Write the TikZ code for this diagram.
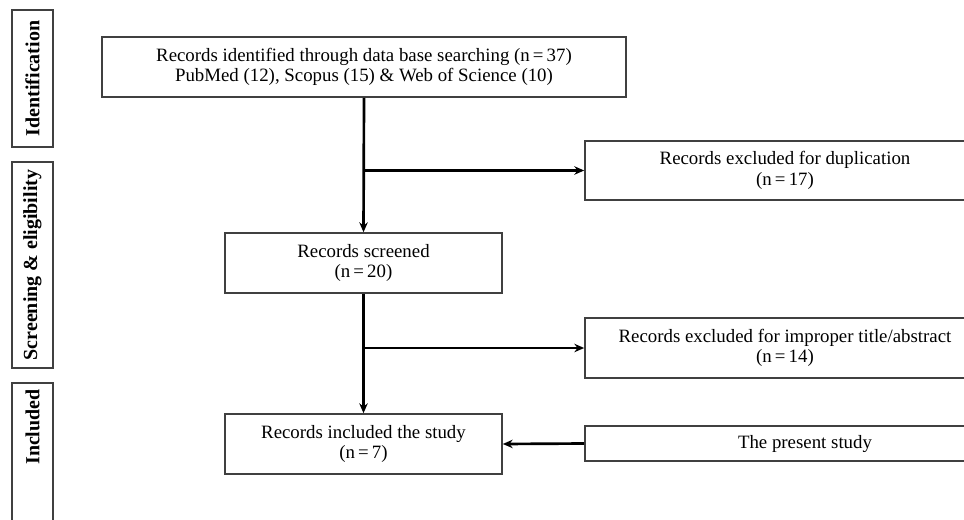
\documentclass[tikz,border=0pt]{standalone}
\usepackage{fontspec}
\setmainfont{Liberation Serif}
\usepackage{tikz}
\usetikzlibrary{arrows.meta,positioning}
\tikzset{flowbox/.style={rectangle,draw=black!75,line width=1.1pt,align=center,
    font=\fontsize{13.4}{14.6}\selectfont,inner sep=2pt},
  sidebox/.style={rectangle,draw=black!75,line width=1.1pt},
  sidelabel/.style={rotate=90,font=\bfseries\fontsize{14.2}{16}\selectfont},
  flowarrow/.style={line width=1.9pt,-{Stealth[length=7pt,width=6pt]}}}

\begin{document}
\begin{tikzpicture}[x=0.025cm, y=-0.025cm]

  \useasboundingbox (0,0) rectangle (964,519);

  % side labels

  \node [sidelabel, sidebox, minimum width=3.425cm, minimum height=1.025cm] (ident) at (32.5,78.5) {Identification};
  \node [sidelabel, sidebox, minimum width=5.15cm, minimum height=1.025cm] (screen) at (32.5,265) {Screening \& eligibility};
  \draw [sidebox] (12,383) rectangle (53,540);
  \node [sidelabel] (incl-lab) at (32.5,427) {Included};

  % nodes

  \node [flowbox, minimum width=13.1cm, minimum height=1.5cm] (top) at (364,67)
    {Records identified through data base searching (n\,=\,37)\\ PubMed (12), Scopus (15) \& Web of Science (10)};
  \node [flowbox, minimum width=10cm, minimum height=1.475cm] (dup) at (785,170.5)
    {Records excluded for duplication\\ (n\,=\,17)};
  \node [flowbox, minimum width=6.925cm, minimum height=1.5cm] (scr) at (363.5,263)
    {Records screened\\ (n\,=\,20)};
  \node [flowbox, minimum width=10cm, minimum height=1.5cm] (imp) at (785,348)
    {Records excluded for improper title/abstract\\ (n\,=\,14)};
  \node [flowbox, minimum width=6.925cm, minimum height=1.5cm] (incl) at (363.5,444)
    {Records included the study\\ (n\,=\,7)};
  \node [flowbox, minimum width=11cm, minimum height=0.875cm] (pres) at (805,443.5)
    {The present study};

  % edges
  \draw [flowarrow] (top.south) -- (scr.north);
  \draw [flowarrow] (scr.north |- dup.west) -- (dup.west);
  \draw [flowarrow] (scr.south) -- (incl.north);
  \draw [flowarrow] (incl.north |- imp.west) -- (imp.west);
  \draw [flowarrow] (pres.west) -- (incl.east);

\end{tikzpicture}
\end{document}
